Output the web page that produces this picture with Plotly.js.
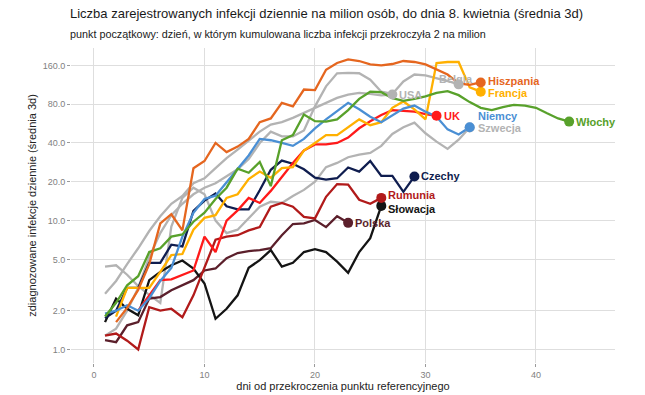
<!DOCTYPE html>
<html>
<head>
<meta charset="utf-8">
<script src="https://cdn.plot.ly/plotly-3.0.1.min.js"></script>
<style>
  html, body { margin: 0; padding: 0; background: #fff; }
  #chart { width: 645px; height: 395px; }
</style>
</head>
<body>
<div id="chart"></div>
<script>
// ---- data (values per day, first value is at the given start day) ----
const belgiaStart = 1;
const belgia = [1.28, 1.45, 2.0, 3.0, 5.2, 8.0, 11, 13.5, 16, 18, 19.5, 22, 25, 30, 40, 49, 45, 45, 50, 77, 110, 139, 140, 139, 124, 100, 96, 120, 136, 134, 128, 121, 114];
const usaStart = 1;
const usa = [2.7, 3.4, 4.6, 6.1, 8.3, 10.8, 13.5, 15.5, 19.5, 21.3, 25.5, 30.5, 35.5, 42, 49, 55.6, 58, 62.6, 68.4, 75, 82, 89.5, 95, 98, 96, 93.5, 95];
const szwecjaStart = 1;
const szwecja = [4.4, 4.5, 3.8, 3.1, 2.65, 2.3, 9.0, 15, 18, 16, 10, 8, 8.5, 10.5, 12.8, 14, 13.7, 15.5, 17.3, 20, 26, 28, 31, 32.5, 33.5, 38, 47, 53, 57.5, 47.6, 41, 36, 42.4, 52.8];
const polskaStart = 1;
const polska = [1.18, 1.14, 1.54, 1.63, 2.48, 2.55, 2.88, 3.15, 3.45, 4.1, 4.25, 5.1, 5.6, 5.8, 5.9, 6.1, 7.7, 9.4, 9.5, 10.1, 8.9, 10.8, 9.6];
const slowacjaStart = 1;
const slowacja = [1.63, 2.48, 2.07, 1.84, 3.45, 4.0, 4.5, 4.9, 4.25, 3.25, 1.73, 2.07, 2.63, 4.3, 4.93, 5.9, 4.4, 4.7, 5.7, 6.0, 5.7, 4.8, 3.93, 5.7, 7.3, 13];
const rumuniaStart = 1;
const rumunia = [1.28, 1.33, 1.17, 1.0, 2.13, 2.0, 2.07, 1.78, 2.63, 4.3, 7.1, 7.5, 7.7, 8.4, 8.9, 12.8, 13.7, 12.8, 10.7, 10.4, 15.3, 19.2, 19, 14.5, 13.5, 15];
const czechyStart = 1;
const czechy = [1.75, 2.0, 3.0, 3.0, 4.7, 4.7, 6.5, 6.3, 11.9, 14.3, 16.2, 12.9, 12.2, 12.2, 17.2, 24.8, 29.2, 27.6, 25, 21.5, 20.8, 21.3, 25.8, 24, 29, 22.2, 22.2, 16.7, 22];
const ukStart = 4;
const uk = [2.0, 2.6, 3.45, 3.5, 3.8, 4.1, 7.5, 5.7, 10, 12, 15, 13.7, 17, 22, 28, 35, 39, 39, 40, 44, 52, 59, 66, 72, 71, 70, 67, 65];
const francjaStart = 2;
const francja = [1.8, 3.0, 3.0, 3.0, 4.0, 5.4, 5.5, 8.5, 10.5, 11, 15, 16, 21, 24, 21.5, 25.5, 26, 35, 40, 46, 46, 53, 61, 55, 58, 75, 84, 73, 61, 167, 170, 170, 108, 100];
const niemcyStart = 1;
const niemcy = [1.9, 2.0, 2.2, 2.0, 2.5, 3.4, 4.3, 7.5, 11.5, 14.7, 15.6, 19.8, 25, 32, 43, 42, 40, 38, 43, 52, 61, 71, 82, 73, 64, 58, 66, 74, 78, 70, 64, 51, 46.5, 53];
const wlochyStart = 1;
const wlochy = [1.8, 2.3, 3.15, 3.7, 5.7, 6.1, 7.5, 7.8, 9.8, 11.5, 14.7, 18, 25.3, 23.5, 28.5, 18.5, 42, 46, 66.5, 59, 58.5, 61, 72, 88, 100, 99, 89, 85, 88, 92, 98, 101, 94, 83, 75, 72, 76, 79, 78, 75, 68, 62, 58.6];
const hiszpaniaStart = 2;
const hiszpania = [1.63, 2.1, 2.9, 4.6, 9.5, 11.2, 8.4, 25.5, 29, 40, 34, 37.5, 43, 58, 62, 82, 77, 104, 103, 148, 167, 178, 173, 163, 160, 164, 173, 170, 163, 148, 136, 116, 113, 118];

const yTickVals = [1, 2, 5, 10, 20, 40, 80, 160];
const yTickText = ["1.0", "2.0", "5.0", "10.0", "20.0", "40.0", "80.0", "160.0"];
const xTickVals = [0, 10, 20, 30, 40];

// ---- styles ----
const GRAY = '#B3B3B3';
const series = [
  {name: 'Belgia',    start: belgiaStart,    vals: belgia,    color: GRAY,      label: {xa: 'center', dx: -3, dy: 5}},
  {name: 'USA',       start: usaStart,       vals: usa,       color: GRAY,      label: {xa: 'left', dx: 5, dy: 0}},
  {name: 'Szwecja',   start: szwecjaStart,   vals: szwecja,   color: GRAY,      label: {xa: 'left', dx: 6, dy: -1}},
  {name: 'Polska',    start: polskaStart,    vals: polska,    color: '#5B1F2B', label: {xa: 'left', dx: 5, dy: 0}},
  {name: 'Słowacja',  start: slowacjaStart,  vals: slowacja,  color: '#141414', label: {xa: 'left', dx: 5, dy: -3}},
  {name: 'Rumunia',   start: rumuniaStart,   vals: rumunia,   color: '#B11A1A', label: {xa: 'left', dx: 5, dy: 3}},
  {name: 'Czechy',    start: czechyStart,    vals: czechy,    color: '#0F1D4F', label: {xa: 'left', dx: 5, dy: 0}},
  {name: 'UK',        start: ukStart,        vals: uk,        color: '#FF1A1A', label: {xa: 'left', dx: 5, dy: 0}},
  {name: 'Francja',   start: francjaStart,   vals: francja,   color: '#FFB000', label: {xa: 'left', dx: 5, dy: -1}},
  {name: 'Niemcy',    start: niemcyStart,    vals: niemcy,    color: '#4A8FD4', label: {xa: 'left', dx: 6, dy: 11}},
  {name: 'Włochy',    start: wlochyStart,    vals: wlochy,    color: '#58A12B', label: {xa: 'left', dx: 5, dy: 0}},
  {name: 'Hiszpania', start: hiszpaniaStart, vals: hiszpania, color: '#E5661F', label: {xa: 'left', dx: 5, dy: 1}}
];

const FONT = 'Liberation Sans, Arial, Helvetica, sans-serif';
const traces = [];
const annotations = [];

series.forEach(s => {
  const days = s.vals.map((_, i) => s.start + i);
  traces.push({
    type: 'scatter', mode: 'lines', x: days, y: s.vals,
    line: {color: s.color, width: 2.3}, hoverinfo: 'skip', showlegend: false
  });
});
series.forEach(s => {
  const lastDay = s.start + s.vals.length - 1;
  const lastVal = s.vals[s.vals.length - 1];
  traces.push({
    type: 'scatter', mode: 'markers', x: [lastDay], y: [lastVal],
    marker: {color: s.color, size: 10, line: {width: 0}}, hoverinfo: 'skip', showlegend: false
  });
  annotations.push({
    x: lastDay, y: Math.log10(lastVal), xref: 'x', yref: 'y',
    text: '<b>' + s.name + '</b>', showarrow: false,
    xanchor: s.label.xa, yanchor: 'middle',
    xshift: s.label.dx, yshift: s.label.dy,
    font: {family: FONT, size: 11, color: s.color}
  });
});

annotations.push({
  xref: 'paper', yref: 'paper', x: -0.006, y: 1.108, xanchor: 'left', yanchor: 'middle',
  text: 'Liczba zarejestrowanych infekcji dziennie na milion osób, do dnia 8. kwietnia (średnia 3d)',
  showarrow: false, font: {family: FONT, size: 13, color: '#1a1a1a'}
});
annotations.push({
  xref: 'paper', yref: 'paper', x: -0.006, y: 1.045, xanchor: 'left', yanchor: 'middle',
  text: 'punkt początkowy: dzień, w którym kumulowana liczba infekcji przekroczyła 2 na milion',
  showarrow: false, font: {family: FONT, size: 10.8, color: '#1a1a1a'}
});

const layout = {
  width: 645, height: 395,
  margin: {l: 71, r: 30, t: 48, b: 32},
  paper_bgcolor: '#ffffff', plot_bgcolor: '#ffffff',
  showlegend: false,
  font: {family: FONT},
  xaxis: {
    range: [-2.08, 47.15], tickvals: xTickVals, showgrid: true, gridcolor: '#DEDEDE', gridwidth: 1,
    zeroline: false, showline: false, ticks: 'outside', ticklen: 3, tickcolor: '#9a9a9a',
    tickfont: {family: FONT, size: 9, color: '#7f7f7f'},
    title: {text: 'dni od przekroczenia punktu referencyjnego', font: {family: FONT, size: 11, color: '#222'}, standoff: 2}
  },
  yaxis: {
    type: 'log', range: [-0.105, 2.339], tickvals: yTickVals, ticktext: yTickText,
    showgrid: true, gridcolor: '#DEDEDE', gridwidth: 1, zeroline: false, showline: false,
    ticks: 'outside', ticklen: 3, tickcolor: '#9a9a9a',
    tickfont: {family: FONT, size: 9, color: '#7f7f7f'},
    title: {text: 'zdiagnozowane infekcje dziennie (średnia 3d)', font: {family: FONT, size: 11, color: '#222'}, standoff: 3}
  },
  annotations: annotations
};

Plotly.newPlot('chart', traces, layout, {displayModeBar: false, staticPlot: true});
</script>
</body>
</html>
